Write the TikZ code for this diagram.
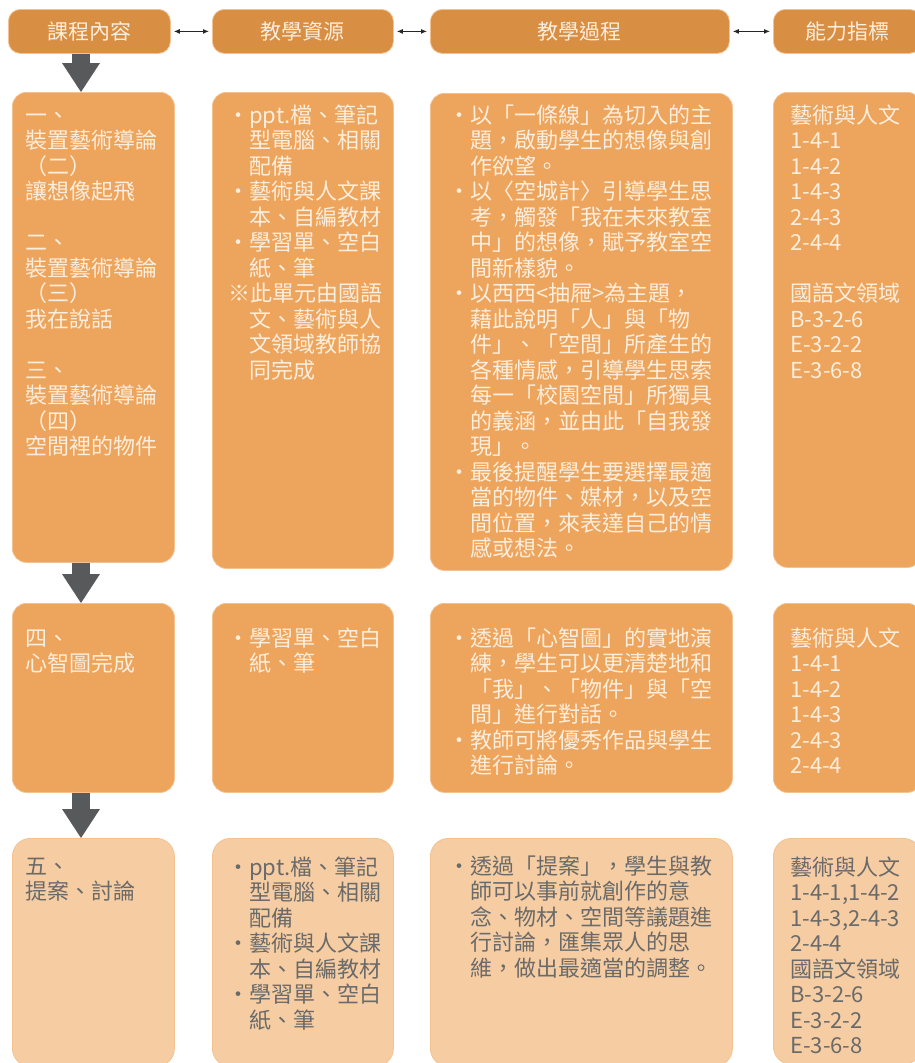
\documentclass[tikz,border=0pt]{standalone}
\usepackage{fontspec}
\setmainfont{Noto Sans CJK TC}
\usetikzlibrary{positioning,arrows.meta}
\definecolor{hdOrange}{HTML}{D88E43}
\definecolor{bxOrange}{HTML}{EDA45C}
\definecolor{bxLight}{HTML}{F6CDA2}
\definecolor{bxLine}{HTML}{F4C190}
\definecolor{txCream}{HTML}{FCEEDD}
\definecolor{txGray}{HTML}{6A6A6A}
\definecolor{arGray}{HTML}{58595B}
\newcommand{\bul}{\makebox[21pt]{·}}
\newcommand{\ind}{\hspace*{21pt}}
\newcommand{\fstrut}{\rule{0pt}{19pt}}

\begin{document}
\begin{tikzpicture}[x=1pt, y=-1pt,
    header/.style={draw=bxLine, line width=0.8pt, rounded corners=12pt, fill=hdOrange, text=txCream, anchor=north west, minimum height=44pt, font=\fontsize{21}{25}\selectfont},
    cell/.style={draw=bxLine, line width=0.8pt, rounded corners=14pt, fill=bxOrange, anchor=north west},
    lightcell/.style={cell, fill=bxLight, rounded corners=18pt},
    txt/.style={inner sep=0pt, align=left, text=txCream, font=\fontsize{22}{25.5}\selectfont},
    graytxt/.style={txt, text=txGray},
    link/.style={{Latex[length=6pt,width=5pt]}-{Latex[length=6pt,width=5pt]}, line width=1.1pt, black!85, shorten <=3pt, shorten >=3pt},
    downarrow/.style={-{Triangle[length=29pt,width=38pt,line width=0pt]}, line width=18pt, arGray}
]
    \useasboundingbox (0,0) rectangle (915,1063);
    \clip (0,0) rectangle (915,1063);

    % Headers
    \node[header, minimum width=162pt] (hCourse) at (8,9) {課程內容};
    \node[header, minimum width=181pt] (hRes) at (212,9) {教學資源};
    \node[header, minimum width=299pt] (hProc) at (430,9) {教學過程};
    \node[header, minimum width=148pt] (hInd) at (773,9) {能力指標};

    % Row 1
    \node[cell, minimum width=162pt, minimum height=470pt] (cA1) at (12,92) {};
    \node[cell, minimum width=181pt, minimum height=476pt] (cB1) at (212,92) {};
    \node[cell, minimum width=302pt, minimum height=477pt] (cC1) at (430,93) {};
    \node[cell, minimum width=148pt, minimum height=475pt] (cD1) at (773,92) {};

    % Row 2
    \node[cell, minimum width=162pt, minimum height=189pt] (cA2) at (12,603) {};
    \node[cell, minimum width=181pt, minimum height=189pt] (cB2) at (212,603) {};
    \node[cell, minimum width=302pt, minimum height=189pt] (cC2) at (430,603) {};
    \node[cell, minimum width=148pt, minimum height=189pt] (cD2) at (773,603) {};

    % Row 3
    \node[lightcell, minimum width=162pt, minimum height=228pt] (cA3) at (12,838) {};
    \node[lightcell, minimum width=181pt, minimum height=228pt] (cB3) at (212,838) {};
    \node[lightcell, minimum width=302pt, minimum height=228pt] (cC3) at (430,838) {};
    \node[lightcell, minimum width=148pt, minimum height=226pt] (cD3) at (773,838) {};

    % Texts of row 1
    \node[txt, below right=12pt and 13pt of cA1.north west] (tA1) {\fstrut 一、\\
        裝置藝術導論\\
        （二）\\
        讓想像起飛\\
        \mbox{}\\
        二、\\
        裝置藝術導論\\
        （三）\\
        我在說話\\
        \mbox{}\\
        三、\\
        裝置藝術導論\\
        （四）\\
        空間裡的物件};
    \node[txt, below right=12pt and 16pt of cB1.north west] (tB1) {\fstrut\bul ppt.檔、筆記\\
        \ind 型電腦、相關\\
        \ind 配備\\
        \bul 藝術與人文課\\
        \ind 本、自編教材\\
        \bul 學習單、空白\\
        \ind 紙、筆\\
        ※此單元由國語\\
        \ind 文、藝術與人\\
        \ind 文領域教師協\\
        \ind 同完成};
    \node[txt, below right=11pt and 19pt of cC1.north west] (tC1) {\fstrut\bul 以「一條線」為切入的主\\
        \ind 題，啟動學生的想像與創\\
        \ind 作欲望。\\
        \bul 以〈空城計〉引導學生思\\
        \ind 考，觸發「我在未來教室\\
        \ind 中」的想像，賦予教室空\\
        \ind 間新樣貌。\\
        \bul 以西西<抽屜>為主題，\\
        \ind 藉此說明「人」與「物\\
        \ind 件」、「空間」所產生的\\
        \ind 各種情感，引導學生思索\\
        \ind 每一「校園空間」所獨具\\
        \ind 的義涵，並由此「自我發\\
        \ind 現」。\\
        \bul 最後提醒學生要選擇最適\\
        \ind 當的物件、媒材，以及空\\
        \ind 間位置，來表達自己的情\\
        \ind 感或想法。};
    \node[txt, below right=12pt and 17pt of cD1.north west] (tD1) {\fstrut 藝術與人文\\
        1-4-1\\
        1-4-2\\
        1-4-3\\
        2-4-3\\
        2-4-4\\
        \mbox{}\\
        國語文領域\\
        B-3-2-6\\
        E-3-2-2\\
        E-3-6-8};

    % Texts of row 2
    \node[txt, below right=24pt and 13pt of cA2.north west] (tA2) {\fstrut 四、\\
        心智圖完成};
    \node[txt, below right=24pt and 16pt of cB2.north west] (tB2) {\fstrut\bul 學習單、空白\\
        \ind 紙、筆};
    \node[txt, below right=24pt and 19pt of cC2.north west] (tC2) {\fstrut\bul 透過「心智圖」的實地演\\
        \ind 練，學生可以更清楚地和\\
        \ind 「我」、「物件」與「空\\
        \ind 間」進行對話。\\
        \bul 教師可將優秀作品與學生\\
        \ind 進行討論。};
    \node[txt, below right=24pt and 17pt of cD2.north west] (tD2) {\fstrut 藝術與人文\\
        1-4-1\\
        1-4-2\\
        1-4-3\\
        2-4-3\\
        2-4-4};

    % Texts of row 3
    \node[graytxt, below right=17pt and 13pt of cA3.north west] (tA3) {\fstrut 五、\\
        提案、討論};
    \node[graytxt, below right=18pt and 16pt of cB3.north west] (tB3) {\fstrut\bul ppt.檔、筆記\\
        \ind 型電腦、相關\\
        \ind 配備\\
        \bul 藝術與人文課\\
        \ind 本、自編教材\\
        \bul 學習單、空白\\
        \ind 紙、筆};
    \node[graytxt, below right=17pt and 19pt of cC3.north west] (tC3) {\fstrut\bul 透過「提案」，學生與教\\
        \ind 師可以事前就創作的意\\
        \ind 念、物材、空間等議題進\\
        \ind 行討論，匯集眾人的思\\
        \ind 維，做出最適當的調整。};
    \node[graytxt, below right=18pt and 17pt of cD3.north west] (tD3) {\fstrut 藝術與人文\\
        1-4-1,1-4-2\\
        1-4-3,2-4-3\\
        2-4-4\\
        國語文領域\\
        B-3-2-6\\
        E-3-2-2\\
        E-3-6-8};

    % Arrows
    \draw[link] (hCourse) -- (hRes);
    \draw[link] (hRes) -- (hProc);
    \draw[link] (hProc) -- (hInd);
    \coordinate (ax) at (81,0);
    \draw[downarrow] (hCourse.south -| ax) -- (cA1.north -| ax);
    \draw[downarrow] (cA1.south -| ax) -- (cA2.north -| ax);
    \draw[downarrow] (cA2.south -| ax) -- (cA3.north -| ax);
\end{tikzpicture}
\end{document}
